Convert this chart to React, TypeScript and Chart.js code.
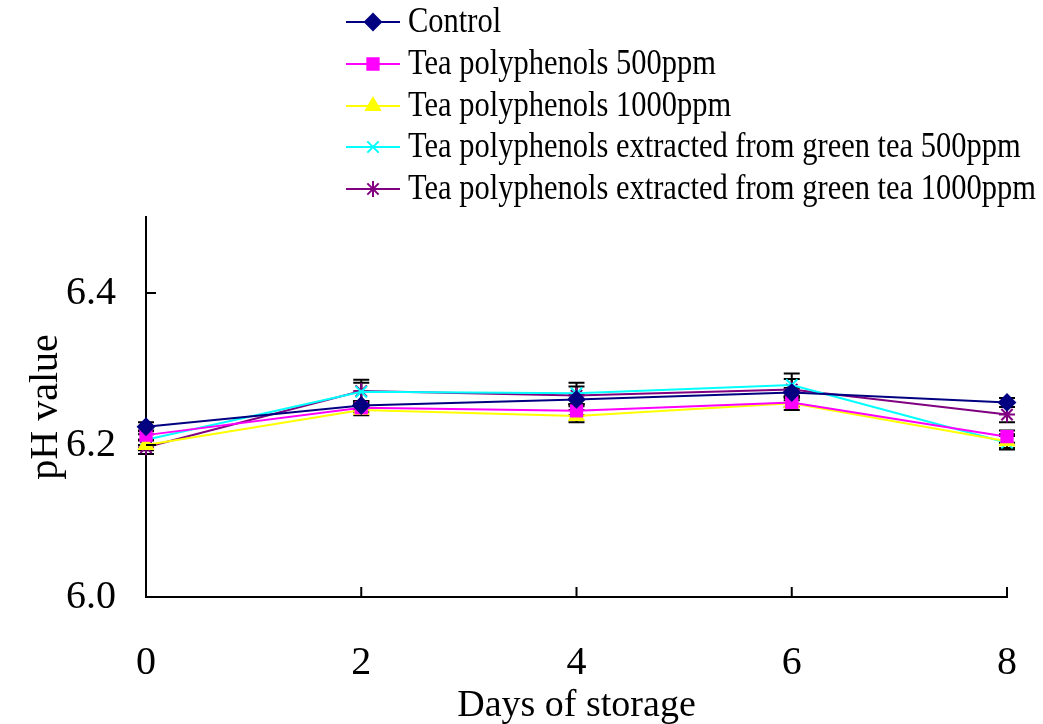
import React, { useEffect, useRef } from "react";
import { Chart, registerables } from "chart.js";
import { drawPoint } from "chart.js/helpers";

Chart.register(...registerables);

const days = [0, 2, 4, 6, 8];
const yTicks = [6.0, 6.2, 6.4];
const seriesNames = [
  "Control",
  "Tea polyphenols 500ppm",
  "Tea polyphenols 1000ppm",
  "Tea polyphenols extracted from green tea 500ppm",
  "Tea polyphenols extracted from green tea 1000ppm",
];
const control = [6.224, 6.252, 6.26, 6.269, 6.256];
const tp500 = [6.213, 6.249, 6.245, 6.256, 6.211];
const tp1000 = [6.2, 6.246, 6.238, 6.255, 6.205];
const green500 = [6.207, 6.27, 6.268, 6.279, 6.203];
const green1000 = [6.197, 6.271, 6.265, 6.273, 6.24];

const controlErr = [0.006, 0.006, 0.006, 0.006, 0.006];
const tp500Err = [0.006, 0.006, 0.006, 0.006, 0.008];
const tp1000Err = [0.007, 0.007, 0.008, 0.009, 0.009];
const green500Err = [0.007, 0.012, 0.014, 0.015, 0.009];
const green1000Err = [0.009, 0.015, 0.012, 0.014, 0.01];

const FONT = "'Liberation Serif', 'Times New Roman', serif";

export default function App() {
  const ref = useRef<HTMLCanvasElement | null>(null);

  useEffect(() => {
    const canvas = ref.current;
    if (!canvas) return;
    const values = [control, tp500, tp1000, green500, green1000];
    const errs = [controlErr, tp500Err, tp1000Err, green500Err, green1000Err];
    const colors = ["#000080", "#FF00FF", "#FFFF00", "#00FFFF", "#800080"];
    const styles = ["rectRot", "rect", "triangle", "crossRot", "star"];
    const radii = [8, 8, 8, 8, 8];

    const datasets = values.map((vals, i) => ({
      label: seriesNames[i],
      data: vals.map((v, j) => ({ x: days[j], y: v })),
      borderColor: colors[i],
      backgroundColor: colors[i],
      pointBackgroundColor: colors[i],
      pointBorderColor: colors[i],
      pointStyle: styles[i],
      pointRadius: radii[i],
      pointBorderWidth: 2,
      borderWidth: 2,
      tension: 0,
      clip: false as any,
      errors: errs[i],
    }));

    const extras = {
      id: "extras",
      beforeDatasetsDraw(chart: any) {
        const ctx = chart.ctx;
        const xs = chart.scales.x;
        const ys = chart.scales.y;
        ctx.save();
        ctx.strokeStyle = "#000";
        ctx.lineWidth = 2;
        chart.data.datasets.forEach((ds: any) => {
          ds.data.forEach((p: any, j: number) => {
            const e = ds.errors[j];
            const px = xs.getPixelForValue(p.x);
            const top = ys.getPixelForValue(p.y + e);
            const bot = ys.getPixelForValue(p.y - e);
            ctx.beginPath();
            ctx.moveTo(px, top);
            ctx.lineTo(px, bot);
            ctx.moveTo(px - 8, top);
            ctx.lineTo(px + 8, top);
            ctx.moveTo(px - 8, bot);
            ctx.lineTo(px + 8, bot);
            ctx.stroke();
          });
        });
        ctx.restore();
      },
      afterDraw(chart: any) {
        const ctx = chart.ctx;
        const xs = chart.scales.x;
        const ys = chart.scales.y;
        const area = chart.chartArea;
        ctx.save();
        ctx.strokeStyle = "#000";
        ctx.lineWidth = 2;
        // inward ticks
        xs.ticks.forEach((t: any) => {
          if (t.value === xs.min) return;
          const px = xs.getPixelForValue(t.value);
          ctx.beginPath();
          ctx.moveTo(px, area.bottom);
          ctx.lineTo(px, area.bottom - 10);
          ctx.stroke();
        });
        ys.ticks.forEach((t: any) => {
          if (t.value === ys.min) return;
          const py = ys.getPixelForValue(t.value);
          ctx.beginPath();
          ctx.moveTo(area.left, py);
          ctx.lineTo(area.left + 10, py);
          ctx.stroke();
        });
        // legend
        const x0 = 346;
        const x1 = 400;
        const rowY = [22, 64, 106, 147, 189];
        ctx.textBaseline = "middle";
        ctx.textAlign = "left";
        chart.data.datasets.forEach((ds: any, i: number) => {
          const y = rowY[i];
          ctx.strokeStyle = ds.borderColor;
          ctx.lineWidth = 2;
          ctx.beginPath();
          ctx.moveTo(x0, y);
          ctx.lineTo(x1, y);
          ctx.stroke();
          ctx.fillStyle = ds.backgroundColor;
          ctx.strokeStyle = ds.borderColor;
          drawPoint(
            ctx,
            {
              pointStyle: ds.pointStyle,
              radius: ds.pointRadius,
              rotation: 0,
              borderWidth: 2,
            } as any,
            (x0 + x1) / 2,
            y
          );
          ctx.save();
          ctx.translate(408, y + 1);
          ctx.scale(1, 1.18);
          ctx.font = `30.5px ${FONT}`;
          ctx.fillStyle = "#000";
          ctx.fillText(ds.label, 0, 0);
          ctx.restore();
        });
        ctx.restore();
      },
    };

    const chart = new Chart(canvas, {
      type: "line",
      data: { datasets: datasets as any },
      options: {
        animation: false,
        responsive: false,
        devicePixelRatio: 1,
        layout: { padding: { top: 217, right: 36, bottom: 0, left: 0 }, autoPadding: false } as any,
        plugins: { legend: { display: false }, tooltip: { enabled: false } },
        scales: {
          x: {
            type: "linear",
            min: 0,
            max: 8,
            afterBuildTicks: (s: any) => {
              s.ticks = days.map((d) => ({ value: d }));
            },
            afterFit: (s: any) => {
              s.height = 127;
              s.paddingLeft = 0;
              s.paddingRight = 0;
            },
            ticks: {
              stepSize: 2,
              padding: 42,
              color: "#000",
              font: { family: FONT, size: 40 },
            },
            grid: { drawOnChartArea: false, drawTicks: false },
            border: { display: true, color: "#000", width: 2 },
            title: {
              display: true,
              text: "Days of storage",
              color: "#000",
              font: { family: FONT, size: 38 },
              padding: { top: 0, bottom: -5 },
            },
          },
          y: {
            type: "linear",
            min: 6.0,
            max: 6.5,
            afterBuildTicks: (s: any) => {
              s.ticks = yTicks.map((v) => ({ value: v }));
            },
            afterFit: (s: any) => {
              s.width = 146;
              s.paddingTop = 0;
              s.paddingBottom = 0;
            },
            ticks: {
              padding: 30,
              color: "#000",
              font: { family: FONT, size: 40 },
              callback: (v: any) => Number(v).toFixed(1),
            },
            grid: { drawOnChartArea: false, drawTicks: false },
            border: { display: true, color: "#000", width: 2 },
            title: {
              display: true,
              text: "pH value",
              color: "#000",
              font: { family: FONT, size: 40 },
              padding: { top: 22, bottom: 0 },
            },
          },
        },
      },
      plugins: [extras],
    });
    return () => chart.destroy();
  }, []);

  return (
    <div style={{ position: "absolute", left: 0, top: 0, width: 1043, height: 724 }}>
      <canvas ref={ref} width={1043} height={724} style={{ display: "block" }} />
    </div>
  );
}
